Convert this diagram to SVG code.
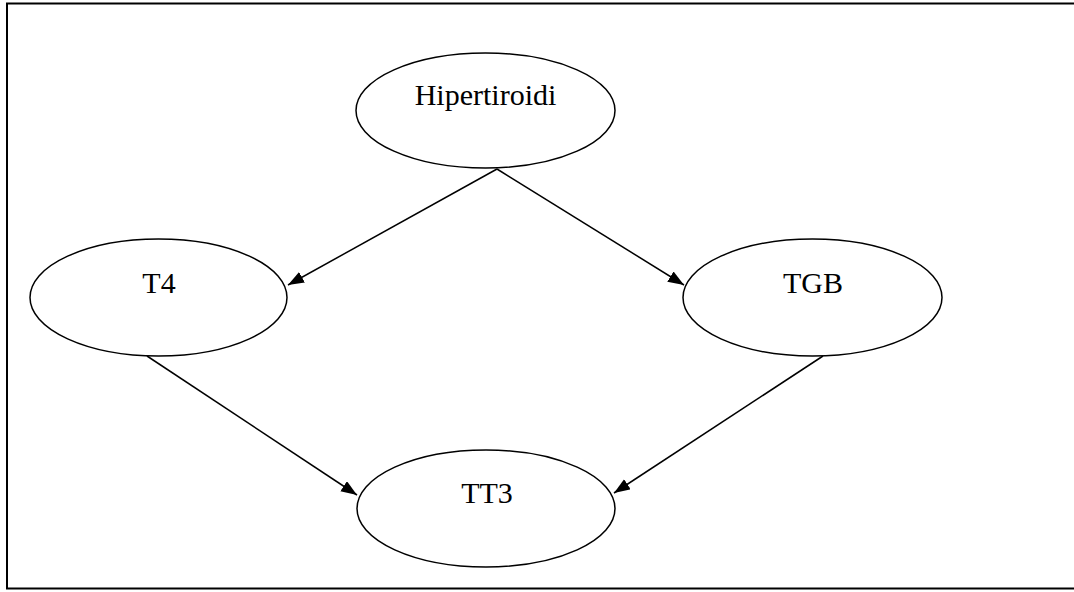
<svg xmlns="http://www.w3.org/2000/svg" width="1074" height="592" viewBox="0 0 1074 592">
  <style>
    .node ellipse { fill: #ffffff; stroke: #000000; stroke-width: 1.5; }
    .node text { font-family: "Liberation Serif", "Times New Roman", serif; font-size: 30px; fill: #000000; text-anchor: middle; }
    .edge { stroke: #000000; stroke-width: 1.5; fill: none; marker-end: url(#arrow); }
  </style>
  <defs>
    <marker id="arrow" markerUnits="userSpaceOnUse" markerWidth="18" markerHeight="14" refX="16" refY="6" orient="auto">
      <path d="M0,0 L16,6 L0,12 z" fill="#000000"/>
    </marker>
  </defs>

  <rect width="1074" height="592" fill="#ffffff"/>
  <!-- frame (open on the right side) -->
  <path d="M1080,3.5 H7 V588.5 H1080" fill="none" stroke="#000000" stroke-width="2"/>

  <g id="edges">
    <line class="edge" x1="497" y1="169" x2="288" y2="285"/>
    <line class="edge" x1="497" y1="169" x2="684" y2="285"/>
    <line class="edge" x1="147" y1="356" x2="357" y2="495"/>
    <line class="edge" x1="823" y1="356" x2="614" y2="493"/>
  </g>

  <g id="node-hipertiroidi" class="node">
    <ellipse cx="485.5" cy="110.5" rx="129.5" ry="57.5"/>
    <text x="485.5" y="105">Hipertiroidi</text>
  </g>
  <g id="node-t4" class="node">
    <ellipse cx="158.5" cy="297.5" rx="128.5" ry="58.5"/>
    <text x="159" y="293">T4</text>
  </g>
  <g id="node-tgb" class="node">
    <ellipse cx="812.5" cy="297.5" rx="129.5" ry="58.5"/>
    <text x="813" y="293">TGB</text>
  </g>
  <g id="node-tt3" class="node">
    <ellipse cx="486" cy="508.5" rx="129" ry="58.5"/>
    <text x="487" y="503">TT3</text>
  </g>
</svg>
